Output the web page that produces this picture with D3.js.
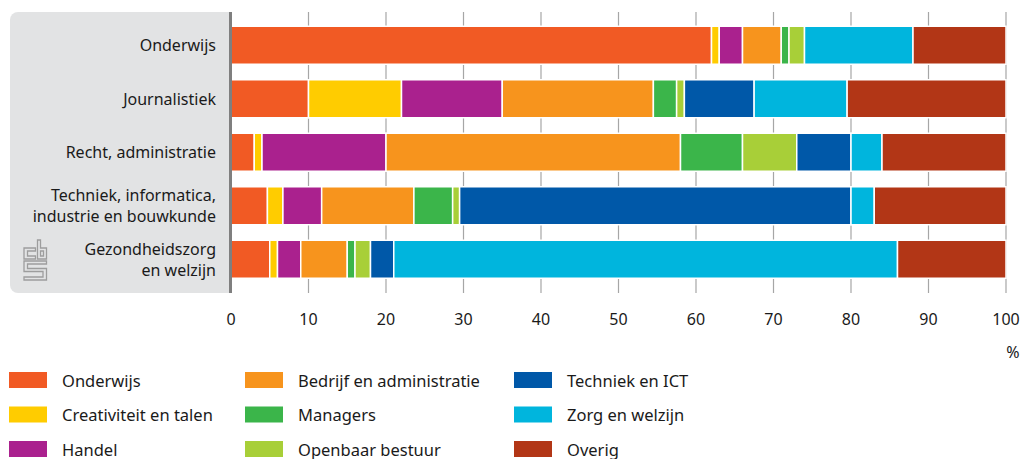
<!DOCTYPE html>
<html>
<head>
<meta charset="utf-8">
<script src="https://cdn.jsdelivr.net/npm/d3@7"></script>
<style>
  body { margin: 0; background: #fff; }
  svg text { font-family: "Noto Sans", "DejaVu Sans", sans-serif; fill: #1a1a1a; }
</style>
</head>
<body>
<div id="chart"></div>
<script>
// categories (rows), top to bottom
var categories = ["Onderwijs", "Journalistiek", "Recht, administratie",
  "Techniek, informatica,\nindustrie en bouwkunde", "Gezondheidszorg\nen welzijn"];

var seriesNames = ["Onderwijs", "Creativiteit en talen", "Handel", "Bedrijf en administratie",
  "Managers", "Openbaar bestuur", "Techniek en ICT", "Zorg en welzijn", "Overig"];

// % per category, same order as categories
var onderwijs    = [62, 10, 3, 4.7, 5];
var creativiteit = [1, 12, 1, 2, 1];
var handel       = [3, 13, 16, 5, 3];
var bedrijf      = [5, 19.5, 38, 11.9, 6];
var managers     = [1, 3, 8, 5, 1];
var openbaar     = [2, 1, 7, 0.9, 2];
var techniek     = [0, 9, 7, 50.5, 3];
var zorg         = [14, 12, 4, 3, 65];
var overig       = [12, 20.5, 16, 17, 14];

var xTicks = [0, 10, 20, 30, 40, 50, 60, 70, 80, 90, 100];

var colors = ["#F15A24", "#FFCC00", "#AA218E", "#F7941D", "#3BB54A",
  "#A8CF38", "#0058A8", "#00B5DD", "#B23616"];

var allSeries = [onderwijs, creativiteit, handel, bedrijf, managers, openbaar, techniek, zorg, overig];

var rows = categories.map(function(c, i) {
  var r = { cat: c };
  seriesNames.forEach(function(s, j) { r[s] = allSeries[j][i]; });
  return r;
});

var width = 1022, height = 459;

var svg = d3.select("#chart").append("svg")
  .attr("width", width)
  .attr("height", height);

var x = d3.scaleLinear().domain([0, 100]).range([231, 1006]);
var y = d3.scaleBand().domain(categories).range([18.5, 286])
  .paddingInner(0.29).paddingOuter(0.145);
var color = d3.scaleOrdinal().domain(seriesNames).range(colors);

var plotTop = 12, plotBottom = 293;

// grey label panel
svg.append("rect")
  .attr("x", 10).attr("y", plotTop)
  .attr("width", 230).attr("height", plotBottom - plotTop)
  .attr("rx", 8)
  .attr("fill", "#E2E3E4");
svg.append("rect")
  .attr("x", 229).attr("y", plotTop)
  .attr("width", 793).attr("height", plotBottom - plotTop)
  .attr("fill", "#fff");

// grid lines (only show in the gaps)
svg.append("g")
  .selectAll("line")
  .data(xTicks.slice(1))
  .enter().append("line")
  .attr("x1", d => x(d)).attr("x2", d => x(d))
  .attr("y1", plotTop).attr("y2", plotBottom)
  .attr("stroke", "#a6a6a6")
  .attr("stroke-width", 1.2);

var stack = d3.stack().keys(seriesNames);
var layers = stack(rows);

svg.append("g")
  .selectAll("g")
  .data(layers)
  .enter().append("g")
  .attr("fill", d => color(d.key))
  .selectAll("rect")
  .data(d => d.filter(p => p[1] - p[0] > 0))
  .enter().append("rect")
  .attr("x", d => x(d[0]))
  .attr("y", d => y(d.data.cat))
  .attr("width", d => x(d[1]) - x(d[0]))
  .attr("height", y.bandwidth())
  .attr("stroke", "#fff")
  .attr("stroke-width", 1.5);

// axis line
svg.append("line")
  .attr("x1", 230.5).attr("x2", 230.5)
  .attr("y1", plotTop).attr("y2", plotBottom)
  .attr("stroke", "#7f7f7f")
  .attr("stroke-width", 3);

// category labels, one text per line
var labelLines = [];
categories.forEach(function(d) {
  var lines = d.split("\n");
  var cy = y(d) + y.bandwidth() / 2;
  lines.forEach(function(l, i) {
    labelLines.push({ text: l, y: cy + 6 + (i - (lines.length - 1) / 2) * 21 });
  });
});

svg.append("g")
  .selectAll("text")
  .data(labelLines)
  .enter().append("text")
  .attr("x", 216)
  .attr("y", d => d.y)
  .attr("text-anchor", "end")
  .attr("font-size", "16px")
  .text(d => d.text);

// x tick labels
svg.append("g")
  .selectAll("text")
  .data(xTicks)
  .enter().append("text")
  .attr("x", d => x(d))
  .attr("y", 325)
  .attr("text-anchor", "middle")
  .attr("font-size", "16px")
  .text(d => d);

svg.append("text")
  .attr("x", 1013).attr("y", 358)
  .attr("text-anchor", "middle")
  .attr("font-size", "16px")
  .text("%");

// cbs logo (rough outline)
var logo = svg.append("g")
  .attr("fill", "none")
  .attr("stroke", "#9d9d9d")
  .attr("stroke-width", 1.3);
logo.append("path").attr("d", "M35.5,248 H24 V259 H35.5 V256 H27.5 V251 H35.5 Z");
logo.append("path").attr("d", "M37.5,240 H40.5 V248 H46.5 V259 H37.5 Z M40.5,251 H43.5 V256 H40.5 Z");
logo.append("path").attr("d", "M24,261 H46.5 V264 H27.5 V268.5 H46.5 V280 H24 V277 H43 V271.5 H24 Z");

// legend
var legend = svg.append("g")
  .selectAll("g")
  .data(seriesNames)
  .enter().append("g")
  .attr("transform", function(d, i) {
    var colX = [9, 245, 514][Math.floor(i / 3)];
    return "translate(" + colX + "," + (372 + (i % 3) * 34.5) + ")";
  });

legend.append("rect")
  .attr("width", 38).attr("height", 16)
  .attr("fill", d => color(d));

legend.append("text")
  .attr("x", 53).attr("y", 14.5)
  .attr("font-size", "16.5px")
  .text(d => d);
</script>
</body>
</html>
